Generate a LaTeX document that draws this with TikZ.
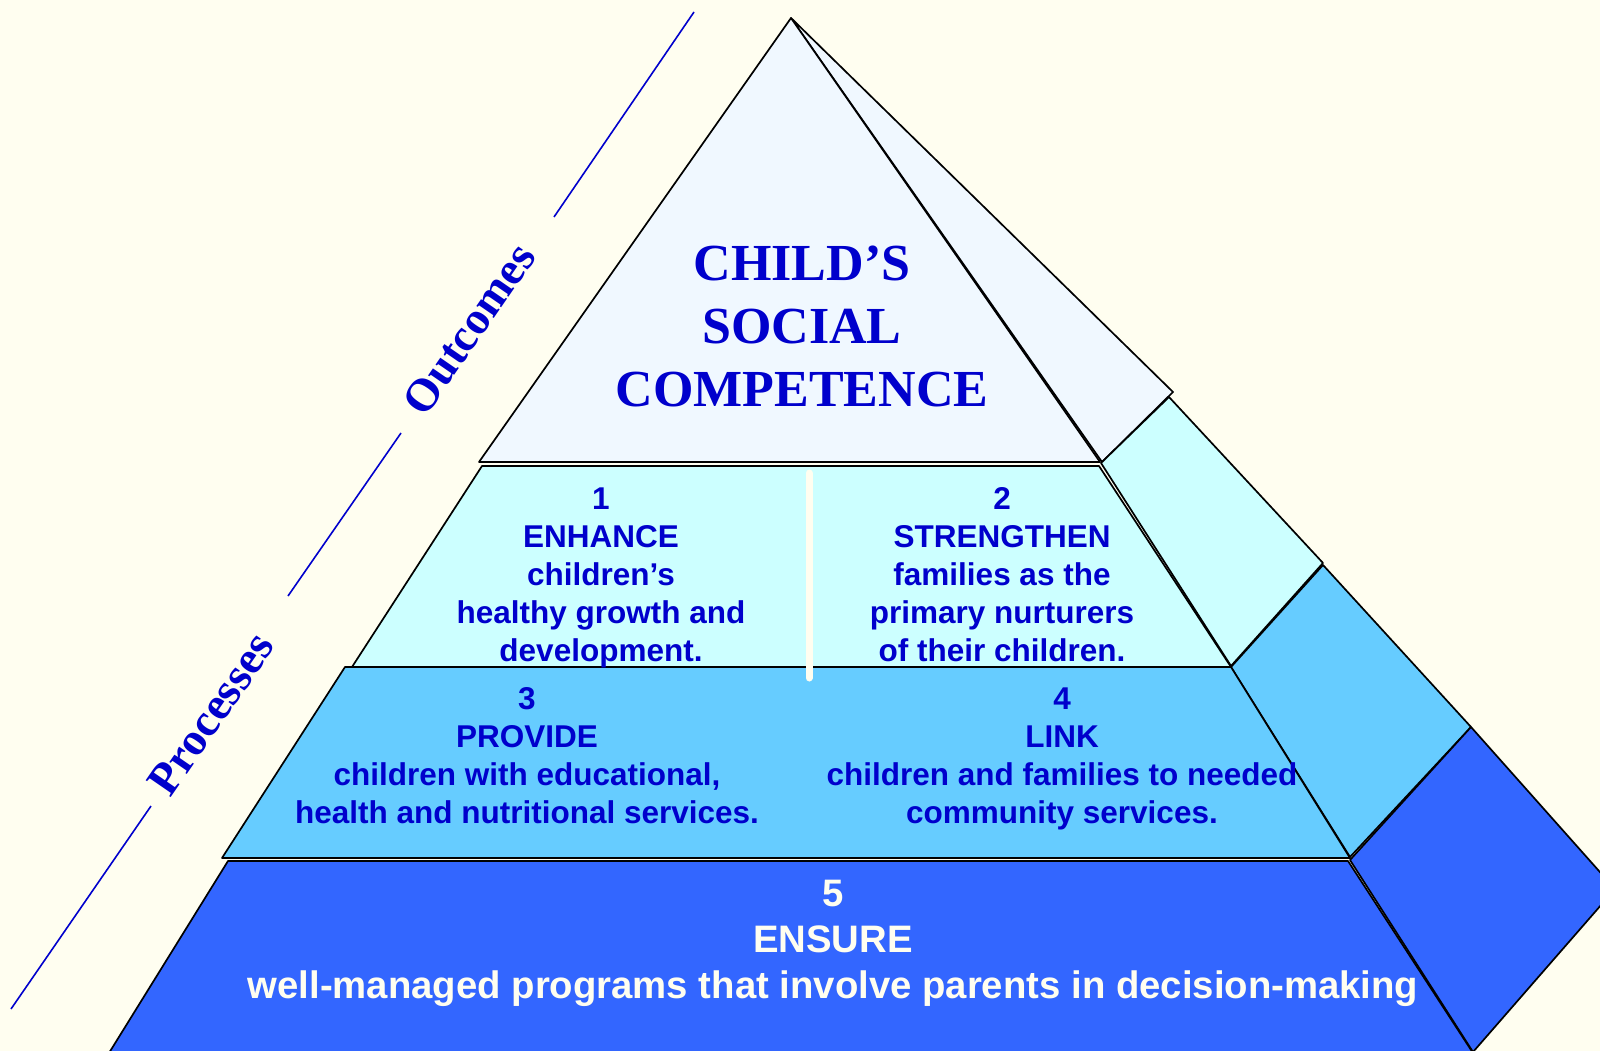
\documentclass[tikz,border=0pt]{standalone}
\usepackage{fontspec}
\setmainfont{Liberation Serif}
\newfontfamily\arialfont{Liberation Sans}
\usepackage{xcolor}
\usepackage{tikz}
\definecolor{paper}{HTML}{FFFEF0}
\definecolor{topfill}{HTML}{F0F8FF}
\definecolor{bandone}{HTML}{CCFFFF}
\definecolor{bandtwo}{HTML}{66CCFF}
\definecolor{bandthree}{HTML}{3366FF}
\definecolor{inkblue}{HTML}{0000CC}

\begin{document}
\begin{tikzpicture}[x=1pt,y=-1pt,
  face/.style={draw=black,line width=1.7pt,line join=round},
  guide/.style={draw=inkblue,line width=1.6pt},
  sidelabel/.style={font=\bfseries\fontsize{46}{46}\selectfont,text=inkblue,rotate=55.4,inner sep=0pt},
  titletext/.style={font=\bfseries\fontsize{52}{63}\selectfont,text=inkblue,align=center,anchor=north,inner sep=0pt},
  steptext/.style={font=\arialfont\bfseries\fontsize{31.5}{38}\selectfont,text=inkblue,align=center,anchor=north,inner sep=0pt},
  basetext/.style={font=\arialfont\bfseries\fontsize{38.3}{46}\selectfont,text=paper,align=center,anchor=north,inner sep=0pt}]
\fill[paper] (0,0) rectangle (1600,1051);
\clip (0,0) rectangle (1600,1051);
% top
\filldraw[face,fill=topfill] (791,18) -- (1173,392) -- (1102,462) -- cycle;
\filldraw[face,fill=topfill] (791,18) -- (479,462) -- (1100,462) -- cycle;
% band 1
\filldraw[face,fill=bandone] (1101,463) -- (1169,397) -- (1323,563) -- (1231,666) -- cycle;
\filldraw[face,fill=bandone] (482,466) -- (1099,466) -- (1231,667) -- (352,667) -- cycle;
% band 2
\filldraw[face,fill=bandtwo] (1231,667) -- (1323,565) -- (1471,727) -- (1350,857) -- cycle;
\filldraw[face,fill=bandtwo] (345,667) -- (1231,667) -- (1350,858) -- (222,858) -- cycle;
% band 3
\filldraw[face,fill=bandthree] (1350,860) -- (1471,727) -- (1615,889) -- (1473,1052) -- cycle;
\filldraw[face,fill=bandthree] (228,861) -- (1348,861) -- (1473,1053) -- (109,1053) -- cycle;
\draw[paper,line width=7pt,line cap=round] (809,473) -- (809,678);
% side labels
\draw[guide] (694,12) -- (554,217);
\draw[guide] (401,433) -- (288,596);
\draw[guide] (151,806) -- (11,1009);
\node[sidelabel] (outcomes) at (469,329) {Outcomes};
\node[sidelabel] (processes) at (211,714) {Processes};
% texts
\node[titletext] (title) at (802,246) {CHILD’S\\SOCIAL\\COMPETENCE};
\node[steptext] (enhance) at (601,487.5) {1\\ENHANCE\\children’s\\healthy growth and\\development.};
\node[steptext] (strengthen) at (1002,487.5) {2\\STRENGTHEN\\families as the\\primary nurturers\\of their children.};
\node[steptext] (provide) at (527,687.5) {3\\PROVIDE\\children with educational,\\health and nutritional services.};
\node[steptext] (link) at (1062,687.5) {4\\LINK\\children and families to needed\\community services.};
\node[basetext] (ensure) at (833,880) {5\\ENSURE\\well-managed programs that involve parents in decision-making};
\end{tikzpicture}
\end{document}
